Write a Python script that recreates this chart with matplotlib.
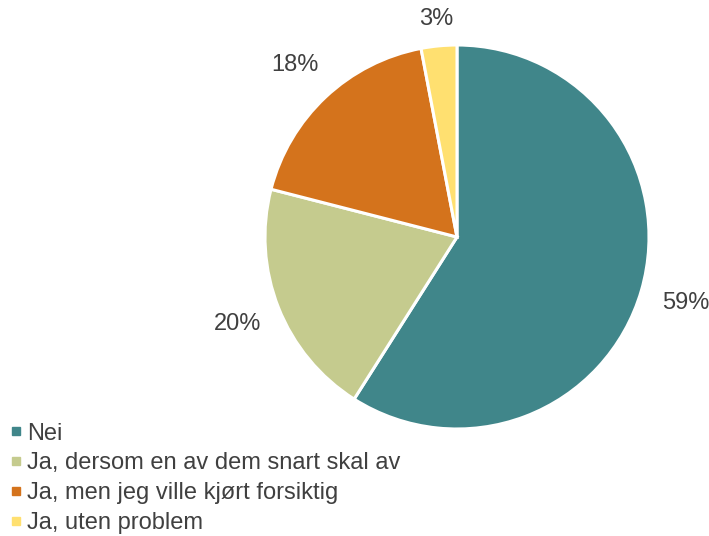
import matplotlib.pyplot as plt
import numpy as np
from matplotlib.lines import Line2D

categories = [
    "Nei",
    "Ja, dersom en av dem snart skal av",
    "Ja, men jeg ville kjørt forsiktig",
    "Ja, uten problem",
]
shares = [59, 20, 18, 3]
colors = ["#40868A", "#C5CB8E", "#D4731C", "#FFE070"]
label_dist = [1.24, 1.23, 1.23, 1.14]

plt.rcParams["font.family"] = ["Liberation Sans", "DejaVu Sans"]
text_color = "#404040"

fig = plt.figure(figsize=(7.09, 5.36), dpi=100)
ax = fig.add_axes([265 / 709, 107 / 536, 384 / 709, 384 / 536])
wedges, _ = ax.pie(
    shares,
    colors=colors,
    startangle=90,
    counterclock=False,
    radius=1.0,
    wedgeprops=dict(edgecolor="white", linewidth=2.2),
)
# percentage labels just outside each wedge, along its mid-angle
for w, val, d in zip(wedges, shares, label_dist):
    mid = np.deg2rad((w.theta1 + w.theta2) / 2)
    ax.text(d * np.cos(mid), d * np.sin(mid), f"{val}%",
            ha="center", va="center", color=text_color, fontsize=17)
ax.set_xlim(-1, 1)
ax.set_ylim(-1, 1)
ax.set_aspect("equal")

handles = [
    Line2D([], [], linestyle="none", marker="s", markersize=5.8,
           markerfacecolor=c, markeredgecolor=c)
    for c in colors
]
leg = fig.legend(
    handles,
    categories,
    loc="lower left",
    bbox_to_anchor=(12 / 709, 2 / 536),
    frameon=False,
    fontsize=17,
    handlelength=0.35,
    handletextpad=0.3,
    labelspacing=0.33,
    borderpad=0,
    borderaxespad=0,
)
for t in leg.get_texts():
    t.set_color(text_color)

fig.savefig("out.png", dpi=100)
